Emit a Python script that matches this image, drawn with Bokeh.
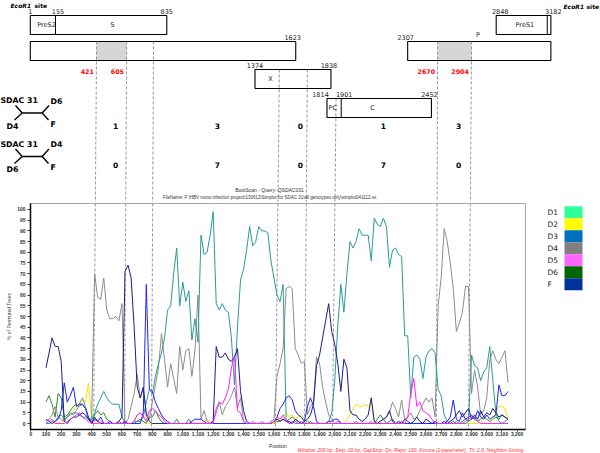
from bokeh.plotting import figure
from bokeh.models import Range1d, FixedTicker, NumeralTickFormatter
from bokeh.layouts import column, row
from bokeh.embed import file_html
from bokeh.resources import INLINE
from bokeh.core.properties import value

# ---------------- bootscan data ----------------
positions = list(range(100, 3141, 20))

teal = [0, 0, 1, 1, 3, 4, 2, 3, 4, 5,
        5, 4, 3, 3, 2, 2, 5, 9, 12, 15,
        12, 10, 9, 9, 9, 3, 0, 0, 0, 0,
        1, 1, 3, 10, 16, 14, 22, 28, 33, 40,
        53, 55, 70, 82, 55, 66, 57, 62, 39, 49,
        38, 88, 79, 80, 88, 99, 56, 53, 56, 53,
        52, 40, 18, 45, 67, 72, 81, 92, 83, 85,
        92, 90, 90, 89, 76, 68, 60, 57, 65, 2,
        0, 1, 0, 0, 1, 0, 0, 1, 0, 0,
        0, 0, 0, 1, 5, 20, 46, 65, 52, 70,
        85, 82, 85, 91, 88, 88, 88, 76, 96, 93,
        92, 96, 92, 73, 81, 82, 79, 78, 41, 41,
        12, 31, 32, 30, 21, 31, 34, 35, 33, 16,
        13, 4, 1, 0, 0, 1, 0, 0, 0, 1,
        32, 27, 26, 20, 24, 26, 36, 20, 5, 1,
        0, 1, 2]

gray = [1, 2, 4, 8, 3, 2, 1, 3, 5, 4,
        6, 9, 12, 8, 2, 2, 70, 59, 58, 68,
        53, 49, 49, 50, 48, 56, 0, 2, 8, 14,
        23, 12, 16, 5, 2, 10, 18, 26, 42, 30,
        17, 28, 21, 14, 36, 25, 34, 35, 22, 34,
        60, 2, 6, 1, 0, 1, 5, 10, 4, 8,
        10, 13, 17, 7, 12, 1, 0, 0, 1, 0,
        0, 1, 0, 0, 1, 2, 22, 28, 35, 63,
        64, 63, 35, 32, 28, 29, 4, 8, 10, 31,
        28, 17, 10, 4, 2, 0, 1, 0, 0, 0,
        0, 0, 1, 0, 0, 0, 0, 1, 0, 0,
        1, 2, 3, 5, 10, 7, 3, 11, 2, 3,
        5, 2, 3, 6, 9, 12, 10, 12, 3, 55,
        68, 91, 85, 75, 63, 43, 47, 52, 64, 64,
        14, 25, 17, 4, 6, 12, 30, 34, 30, 28,
        31, 34, 19]

navy = [26, 33, 40, 36, 36, 29, 1, 0, 2, 3,
        3, 4, 5, 4, 2, 0, 3, 1, 0, 0,
        0, 0, 0, 0, 1, 3, 71, 74, 68, 45,
        17, 12, 17, 4, 1, 0, 0, 0, 0, 0,
        0, 0, 0, 0, 0, 0, 0, 0, 0, 0,
        0, 0, 0, 0, 0, 1, 36, 31, 31, 33,
        30, 29, 31, 35, 15, 6, 1, 0, 0, 0,
        0, 0, 0, 0, 0, 1, 2, 1, 2, 1,
        1, 0, 2, 1, 0, 1, 2, 4, 9, 27,
        32, 40, 48, 56, 43, 37, 28, 15, 30, 26,
        6, 4, 4, 2, 1, 2, 4, 12, 1, 0,
        1, 2, 3, 6, 1, 0, 1, 0, 2, 1,
        0, 1, 3, 1, 0, 2, 1, 0, 1, 0,
        0, 1, 0, 1, 2, 4, 6, 3, 5, 7,
        2, 4, 2, 6, 3, 5, 4, 7, 5, 3,
        4, 3, 2]

blue = [2, 1, 0, 1, 2, 6, 19, 10, 13, 17,
        8, 9, 9, 7, 3, 0, 2, 1, 3, 0,
        0, 1, 0, 0, 0, 0, 1, 0, 0, 0,
        0, 0, 5, 65, 16, 15, 10, 7, 4, 2,
        1, 0, 0, 0, 0, 0, 0, 0, 1, 2,
        2, 2, 1, 0, 0, 0, 0, 0, 0, 0,
        0, 0, 0, 0, 0, 0, 0, 0, 0, 0,
        0, 0, 0, 0, 0, 1, 3, 7, 9, 12,
        13, 11, 6, 4, 3, 1, 8, 12, 8, 1,
        0, 0, 0, 1, 1, 2, 2, 0, 0, 0,
        0, 0, 0, 0, 0, 0, 0, 0, 0, 0,
        0, 0, 0, 0, 0, 0, 0, 0, 0, 0,
        0, 0, 0, 0, 0, 0, 0, 0, 0, 0,
        0, 0, 1, 3, 11, 2, 1, 5, 2, 3,
        4, 2, 6, 3, 2, 4, 2, 3, 4, 18,
        13, 13, 15]

magenta = [0, 1, 2, 0, 0, 0, 0, 1, 2, 3,
           4, 5, 3, 2, 1, 0, 0, 0, 1, 0,
           0, 0, 0, 0, 0, 0, 0, 0, 0, 1,
           4, 5, 3, 1, 6, 7, 6, 4, 3, 1,
           0, 0, 0, 0, 0, 0, 0, 0, 0, 0,
           0, 0, 0, 0, 0, 0, 7, 10, 9, 12,
           16, 26, 32, 6, 5, 1, 0, 0, 0, 0,
           0, 0, 0, 0, 0, 1, 3, 2, 4, 1,
           0, 0, 1, 0, 0, 0, 0, 0, 0, 0,
           0, 0, 0, 0, 0, 0, 0, 0, 0, 0,
           0, 0, 0, 0, 0, 0, 0, 0, 0, 0,
           0, 0, 0, 0, 0, 0, 0, 0, 0, 3,
           14, 21, 8, 10, 6, 5, 4, 2, 0, 0,
           0, 0, 0, 0, 0, 0, 0, 0, 1, 2,
           3, 2, 1, 0, 0, 0, 0, 0, 0, 0,
           0, 0, 0]

yellow = [0, 0, 0, 0, 0, 1, 2, 3, 5, 6,
          8, 10, 11, 10, 19, 2, 1, 0, 0, 0,
          0, 0, 0, 0, 0, 0, 0, 0, 0, 1,
          4, 5, 4, 1, 0, 0, 0, 0, 0, 0,
          0, 0, 0, 0, 0, 0, 0, 0, 0, 0,
          0, 0, 1, 2, 0, 0, 0, 0, 0, 0,
          0, 0, 0, 0, 0, 0, 0, 0, 0, 0,
          0, 0, 0, 0, 0, 0, 2, 1, 3, 5,
          3, 4, 2, 3, 4, 2, 1, 0, 0, 0,
          0, 0, 0, 0, 0, 0, 0, 0, 0, 2,
          4, 7, 9, 8, 8, 9, 8, 10, 1, 0,
          0, 0, 0, 0, 0, 0, 0, 0, 0, 0,
          0, 0, 0, 0, 0, 0, 0, 0, 0, 0,
          0, 0, 0, 0, 0, 0, 0, 0, 0, 0,
          0, 0, 0, 1, 0, 0, 0, 2, 5, 8,
          8, 7, 2]

green = [10, 13, 9, 3, 14, 12, 3, 4, 6, 8,
         9, 8, 9, 7, 2, 1, 4, 6, 4, 5,
         2, 1, 0, 0, 1, 0, 0, 0, 0, 1,
         1, 2, 1, 0, 3, 3, 6, 3, 1, 0,
         0, 0, 0, 2, 0, 0, 0, 2, 0, 0,
         0, 0, 0, 0, 0, 0, 0, 0, 0, 0,
         0, 0, 0, 0, 0, 0, 0, 0, 0, 0,
         0, 0, 0, 0, 0, 0, 1, 1, 2, 1,
         2, 3, 2, 1, 0, 0, 1, 0, 0, 0,
         0, 0, 0, 0, 0, 0, 0, 0, 0, 0,
         0, 0, 0, 0, 0, 0, 0, 0, 0, 2,
         4, 2, 0, 1, 2, 0, 0, 1, 0, 0,
         0, 0, 0, 0, 0, 0, 0, 0, 0, 0,
         0, 0, 0, 0, 1, 0, 0, 1, 2, 1,
         2, 3, 1, 2, 3, 2, 1, 2, 3, 2,
         4, 3, 2]

series_colors = {"green": "#2e8b2e", "yellow": "#f0e400", "gray": "#8c8c8c",
                 "teal": "#2a9a9a", "navy": "#1c1c8e", "blue": "#2222ff",
                 "magenta": "#ff22ff"}
draw_order = [("green", green), ("yellow", yellow), ("gray", gray), ("teal", teal),
              ("navy", navy), ("blue", blue), ("magenta", magenta)]

legend_labels = ["D1", "D2", "D3", "D4", "D5", "D6", "F"]
legend_colors = ["#33ff99", "#ffff00", "#0070c0", "#808080", "#ff66ff", "#006600", "#003399"]

x_ticks = list(range(0, 3201, 100))
y_ticks = list(range(0, 101, 5))

title_1 = "BootScan - Query: QSDAC031"
title_2 = "FileName: F:\\HBV mono infection project\\130612\\Simplot for SDAC 31\\all genotypes only\\simplot041112.ss"
x_title = "Position"
footnote = "Window: 200 bp, Step: 20 bp, GapStrip: On, Reps: 100, Kimura (2-parameter), T/t: 2.0, Neighbor-Joining"

# ---------------- gene map data ----------------
box_start = [1, 1, 1374, 1814, 2307, 2848]
box_end = [835, 1623, 1838, 2452, 3182, 3182]
box_row = [0, 1, 2, 3, 1, 0]
divider_pos = [155, 1901, 3160]
divider_row = [0, 3, 0]
coord_labels = [1, 155, 835, 1623, 1374, 1838, 1814, 1901, 2452, 2307, 2848, 3182]
coord_rows = [0, 0, 0, 1, 2, 2, 3, 3, 3, 1, 0, 0]
coord_dx = [0, 2.5, 0, -3, 0, -2, -6.5, 3, -2, -2, 4, 2.5]
gene_names = ["PreS2", "S", "X", "PC", "C", "PreS1", "P"]
gene_name_pos = [100, 503, 1469, 1849, 2092, 3023, 2737]
gene_name_row = [0, 0, 2, 3, 3, 0, -1]

# breakpoints (dashed lines): genome position at map level and at axis level
cut_top = [432, 630, 807, 1636, 1820, 2011, 2676, 2899]
cut_bottom = [413, 616, 794, 1610, 1801, 1985, 2669, 2880]
cut_start_row = [1, 1, 1, 2, 2, 3, 1, 1]
shaded_pairs = [(0, 1), (6, 7)]
red_label_cut = [0, 1, 6, 7]
red_label_text = ["421", "605", "2670", "2904"]
region_centers = [558, 1228, 1774, 2320, 2814]
tree1_counts = ["1", "3", "0", "1", "3"]
tree2_counts = ["0", "7", "0", "7", "0"]
tree_tips = [["SDAC 31", "D6", "D4", "F"], ["SDAC 31", "D4", "D6", "F"]]

# ---------------- layout constants ----------------
GENE_H = 202
PLOT_H = 240
FOOT_H = 453 - GENE_H - PLOT_H
ROW_TOP = [15, 41, 69, 98]
ROW_H = 19
MAP_Y, AXIS_Y = 60.0, 428.0
PLOT_TOP_REF = 203.0
Y_LO, Y_HI = -2.8, 102.8
X_LO, X_HI = -2, 3255


def cut_x(i, y):
    return cut_top[i] + (cut_bottom[i] - cut_top[i]) * (y - MAP_Y) / (AXIS_Y - MAP_Y)


FONT = value("DejaVu Sans")

# ---------------- gene map figure ----------------
gene = figure(width=600, height=GENE_H, x_range=Range1d(-181.1, 3485.3),
              y_range=Range1d(GENE_H, 0), x_axis_location=None, y_axis_location=None,
              output_backend="svg", toolbar_location=None, min_border=0,
              outline_line_color=None)
gene.grid.visible = False
gene.extra_x_ranges = {"plot": Range1d(-199.3, 3748.0), "px": Range1d(0, 600)}

b_top = [ROW_TOP[r] for r in box_row]
b_bot = [t + ROW_H for t in b_top]
gene.quad(left=box_start, right=box_end, top=b_top, bottom=b_bot,
          fill_color="white", line_color=None)
sh_l, sh_r = [], []
ymid = ROW_TOP[1] + ROW_H / 2
for a, b in shaded_pairs:
    sh_l.append(cut_x(a, ymid))
    sh_r.append(cut_x(b, ymid))
gene.quad(left=sh_l, right=sh_r, top=[ROW_TOP[1]] * len(sh_l),
          bottom=[ROW_TOP[1] + ROW_H] * len(sh_l), fill_color="#d6d6d6",
          line_color=None, x_range_name="plot")
gene.quad(left=box_start, right=box_end, top=b_top, bottom=b_bot,
          fill_color=None, line_color="black", line_width=1.1)
gene.segment(x0=divider_pos, x1=divider_pos,
             y0=[ROW_TOP[r] for r in divider_row],
             y1=[ROW_TOP[r] + ROW_H for r in divider_row],
             line_color="black", line_width=1)

# dashed breakpoint lines (upper part)
ys = [ROW_TOP[r] for r in cut_start_row]
gene.segment(x0=[cut_x(i, ys[i]) for i in range(len(cut_top))], y0=ys,
             x1=[cut_x(i, GENE_H) for i in range(len(cut_top))],
             y1=[GENE_H] * len(cut_top), x_range_name="plot",
             line_color="#7a7a7a", line_dash="3 2", line_width=0.8)

gene.text(x=coord_labels, y=[ROW_TOP[r] - 1.5 for r in coord_rows],
          text=[str(c) for c in coord_labels], x_offset=coord_dx, text_align="center",
          text_baseline="bottom", text_font=FONT, text_font_size="6.5px",
          text_color="#222222")
gene.text(x=gene_name_pos,
          y=[(ROW_TOP[r] + ROW_H / 2) if r >= 0 else ROW_TOP[1] - 7 for r in gene_name_row],
          text=gene_names, text_align="center", text_baseline="middle",
          text_font=FONT, text_font_size="6.5px", text_color="#222222")
gene.text(x=[cut_x(i, 70) for i in red_label_cut], y=[71] * len(red_label_cut),
          text=red_label_text, x_range_name="plot", text_align="right",
          text_baseline="middle", x_offset=-2.5, text_color="#ff0000",
          text_font=FONT, text_font_style="bold", text_font_size="6.3px")
gene.text(x=region_centers, y=[125] * 5, text=tree1_counts, x_range_name="plot",
          text_align="center", text_baseline="middle", text_font=FONT,
          text_font_style="bold", text_font_size="7.5px", text_color="black")
gene.text(x=region_centers, y=[164] * 5, text=tree2_counts, x_range_name="plot",
          text_align="center", text_baseline="middle", text_font=FONT,
          text_font_style="bold", text_font_size="7.5px", text_color="black")

# trees
for k, y0 in enumerate([100, 143.5]):
    ny = y0 + 12.5
    gene.segment(x0=[15, 14, 21.7, 41.7, 41.7], y0=[y0 + 5, y0 + 19.5, ny, ny, ny],
                 x1=[21.7, 21.7, 41.7, 48.5, 48], y1=[ny, ny, ny, y0 + 5, y0 + 19.5],
                 x_range_name="px", line_color="black", line_width=1.4)
    tips = tree_tips[k]
    gene.text(x=[0, 50, 6, 50], y=[y0, y0 + 0.5, y0 + 25.5, y0 + 23.5], text=tips,
              x_range_name="px", text_align="left", text_baseline="middle",
              text_font=FONT, text_font_style="bold", text_font_size="7.8px",
              text_color="black")

# titles of the bootscan panel
gene.text(x=[269], y=[189], text=[title_1], x_range_name="px", text_align="center",
          text_baseline="middle", text_font=value("Liberation Sans"),
          text_font_size="5px", text_color="#333333")
gene.text(x=[269], y=[197], text=[title_2], x_range_name="px", text_align="center",
          text_baseline="middle", text_font=value("Liberation Sans"),
          text_font_size="4.5px", text_color="#333333")

# EcoR1 sites
gene.text(x=[10, 563], y=[5, 6], text=["EcoR1", "EcoR1"], x_range_name="px",
          text_align="left", text_baseline="middle", text_font=FONT,
          text_font_style="bold italic", text_font_size="6px", text_color="black")
gene.text(x=[34, 586], y=[5, 6], text=["site", "site"], x_range_name="px",
          text_align="left", text_baseline="middle", text_font=FONT,
          text_font_style="bold", text_font_size="6px", text_color="black")

# ---------------- bootscan plot ----------------
p = figure(width=530, height=PLOT_H, x_range=Range1d(X_LO, X_HI),
           y_range=Range1d(Y_LO, Y_HI), output_backend="svg", toolbar_location=None,
           min_border_left=30, min_border_right=5, min_border_top=1,
           min_border_bottom=13)
p.grid.visible = False
p.outline_line_color = "#a6a6a6"
p.xaxis.ticker = FixedTicker(ticks=x_ticks)
p.yaxis.ticker = FixedTicker(ticks=y_ticks)
p.xaxis.formatter = NumeralTickFormatter(format="0,0")
for ax in (p.xaxis[0], p.yaxis[0]):
    ax.axis_line_width = 1.5
    ax.axis_line_color = "black"
    ax.major_tick_in = 0
    ax.major_tick_out = 2
    ax.minor_tick_in = 0
    ax.minor_tick_out = 0
    ax.major_tick_line_color = "#333333"
    ax.major_label_text_font = "Liberation Sans"
    ax.major_label_text_font_size = "5px"
    ax.major_label_text_font_style = "bold"
    ax.major_label_text_color = "#333333"
    ax.major_label_standoff = 0
p.yaxis.major_tick_out = 3
p.yaxis.major_label_standoff = 2
p.yaxis.axis_label = "% of Permuted Trees"
p.yaxis.axis_label_text_font = "Liberation Sans"
p.yaxis.axis_label_text_font_size = "5px"
p.yaxis.axis_label_text_font_style = "normal"
p.yaxis.axis_label_standoff = 2

# dashed breakpoint lines (lower part)
p.segment(x0=[cut_x(i, PLOT_TOP_REF) for i in range(len(cut_top))],
          y0=[Y_HI] * len(cut_top), x1=cut_bottom, y1=[Y_LO] * len(cut_top),
          line_color="#7a7a7a", line_dash="3 2", line_width=0.8)

for name, vals in draw_order:
    p.line(positions, vals, line_color=series_colors[name], line_width=1)

# ---------------- legend ----------------
leg = figure(width=70, height=PLOT_H, x_range=Range1d(530, 600),
             y_range=Range1d(GENE_H + PLOT_H, GENE_H), x_axis_location=None,
             y_axis_location=None, output_backend="svg", toolbar_location=None,
             min_border=0, outline_line_color=None)
leg.grid.visible = False
row_h = 12.75
tops = [205 + row_h * i for i in range(len(legend_labels))]
leg.quad(left=[564] * 7, right=[582] * 7, top=tops, bottom=[t + row_h for t in tops],
         fill_color=legend_colors, line_color=None)
leg.text(x=[547] * 7, y=[t + row_h / 2 for t in tops], text=legend_labels,
         text_align="left", text_baseline="middle", text_font=FONT,
         text_font_size="7.5px", text_color="#222222")

# ---------------- axis title + footnote strip ----------------
foot = figure(width=600, height=FOOT_H, x_range=Range1d(0, 600), y_range=Range1d(FOOT_H, 0),
              x_axis_location=None, y_axis_location=None, output_backend="svg",
              toolbar_location=None, min_border=0, outline_line_color=None)
foot.grid.visible = False
foot.extra_x_ranges = {"plot": Range1d(X_LO - 30 * (X_HI - X_LO) / 495,
                                       X_LO + 570 * (X_HI - X_LO) / 495)}
foot.text(x=[(X_LO + X_HI) / 2], y=[2.4], text=[x_title], x_range_name="plot",
          text_align="center", text_baseline="middle",
          text_font=value("Liberation Sans"), text_font_size="5px",
          text_color="#333333")
foot.text(x=[523], y=[7.3], text=[footnote], text_align="right",
          text_baseline="middle", text_font=value("Liberation Sans"),
          text_font_style="italic", text_font_size="4.9px", text_color="#ff2a2a")

layout = column(gene, row(p, leg), foot)
open("out.html", "w").write(file_html(layout, INLINE))
